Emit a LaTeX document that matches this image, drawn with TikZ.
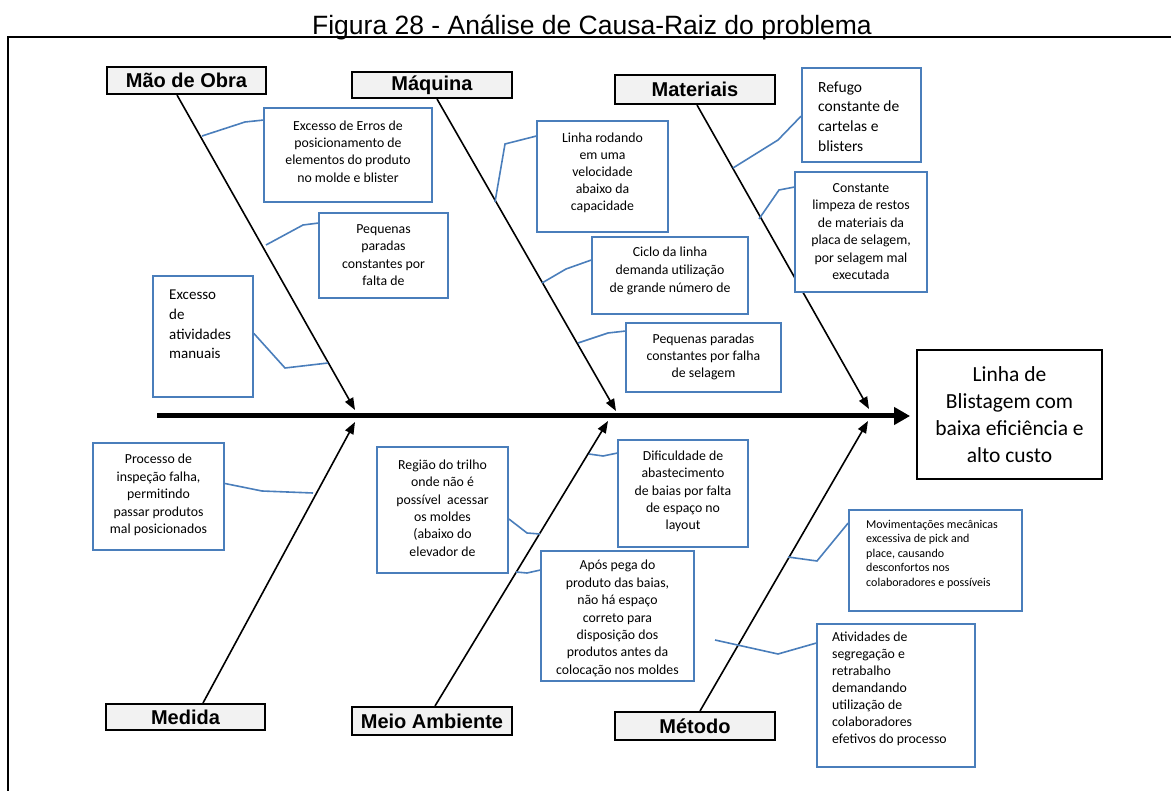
\documentclass[tikz,border=0pt]{standalone}
\usepackage{fontspec}
\setmainfont{Carlito}
\newfontfamily\arialfont{Liberation Sans}
\usetikzlibrary{arrows.meta}
\definecolor{causeblue}{HTML}{4A7EBB}
\definecolor{headgray}{HTML}{F2F2F2}
\newcommand\fsz[2]{\fontsize{#1}{#2}\selectfont}

\begin{document}
\begin{tikzpicture}[x=1pt,y=-1pt,
  catbox/.style={draw=black, line width=2pt, fill=headgray, inner sep=0pt,
    font=\arialfont\bfseries\fsz{20}{24}},
  causebox/.style={draw=causeblue, line width=1.8pt, fill=white, inner sep=0pt},
  causetext/.style={inner sep=0pt, align=center, font=\fsz{13.8}{17.4}},
  lefttext/.style={inner sep=0pt, align=left, anchor=west},
  link/.style={draw=causeblue, line width=1.6pt},
  bone/.style={draw=black, line width=1.6pt, -{Triangle[length=12pt,width=9pt]}},
  spine/.style={draw=black, line width=5pt, -{Triangle[length=16pt,width=17pt]}},
  ]
\useasboundingbox (0,0) rectangle (1171,791);

% title and frame
\node[font=\arialfont\fsz{26.5}{30}, anchor=base, inner sep=0pt] (title) at (592,34.5)
  {Figura 28 - Análise de Causa-Raiz do problema};
\coordinate (fbl) at (8,792);
\coordinate (ftl) at (8,37);
\coordinate (ftr) at (1172,37);
\draw[line width=2pt] (fbl) -- (ftl) -- (ftr);

% effect
\node[draw=black, line width=1.8pt, minimum width=185pt, minimum height=129pt,
  inner sep=0pt, align=center, font=\fsz{21.5}{27}] (eff) at (1009.5,414.5)
  {Linha de\\Blistagem com\\baixa eficiência e\\alto custo};

% spine
\coordinate (spineStart) at (157,416);
\draw[spine, shorten >=6pt] (spineStart) -- (spineStart -| eff.west);

% categories
\node[catbox, minimum width=159pt, minimum height=27pt] (mo)   at (186.5,80.5) {Mão de Obra};
\node[catbox, minimum width=160pt, minimum height=26pt] (maq)  at (432,85)     {Máquina};
\node[catbox, minimum width=160pt, minimum height=29pt] (mat)  at (695,89.5)   {Materiais};
\node[catbox, minimum width=159pt, minimum height=26pt] (med)  at (185.5,717)  {Medida};
\node[catbox, minimum width=160pt, minimum height=28pt] (meio) at (432,721)    {Meio Ambiente};
\node[catbox, minimum width=160pt, minimum height=28pt] (met)  at (695,726)    {Método};

% bones
\coordinate (moTip)   at (355,410);
\coordinate (maqTip)  at (616,411);
\coordinate (matTip)  at (869,409);
\coordinate (medTip)  at (355,422);
\coordinate (meioTip) at (608,421);
\coordinate (metTip)  at (868,421);
\draw[bone] ([xshift=-9.5pt]mo.south) -- (moTip);
\draw[bone] ([xshift=5pt]maq.south) -- (maqTip);
\draw[bone] ([xshift=2pt]mat.south) -- (matTip);
\draw[bone] ([xshift=17.5pt]med.north) -- (medTip);
\draw[bone] ([xshift=3pt]meio.north) -- (meioTip);
\draw[bone] ([xshift=5pt]met.north) -- (metTip);

% cause boxes
\node[causebox, minimum width=168pt, minimum height=94pt]  (b1)  at (348,155) {};
\node[causebox, minimum width=129pt, minimum height=85pt]  (b2)  at (383.5,255.5) {};
\node[causebox, minimum width=100pt, minimum height=121pt] (b3)  at (203,336.5) {};
\node[causebox, minimum width=131pt, minimum height=111pt] (b4)  at (602.5,176.5) {};
\node[causebox, minimum width=156pt, minimum height=77pt]  (b5)  at (670,275.5) {};
\node[causebox, minimum width=155pt, minimum height=69pt]  (b6)  at (703.5,357.5) {};
\node[causebox, minimum width=119pt, minimum height=94pt]  (b7)  at (861.5,115) {};
\node[causebox, minimum width=132pt, minimum height=120pt] (b8)  at (861,232) {};
\node[causebox, minimum width=131pt, minimum height=107pt] (b9)  at (158.5,496.5) {};
\node[causebox, minimum width=131pt, minimum height=126pt] (b10) at (442.5,510) {};
\node[causebox, minimum width=130pt, minimum height=107pt] (b11) at (683,493.5) {};
\node[causebox, minimum width=153pt, minimum height=130pt] (b12) at (617.5,616) {};
\node[causebox, minimum width=173pt, minimum height=101pt] (b13) at (935.5,560.5) {};
\node[causebox, minimum width=158pt, minimum height=143pt] (b14) at (896,695.5) {};

% cause texts
\node[causetext] (t1) at (348,151.5)
  {Excesso de Erros de\\posicionamento de\\elementos do produto\\no molde e blister};
\node[causetext] (t2) at (383.5,255)
  {Pequenas\\paradas\\constantes por\\falta de};
\node[lefttext, font=\fsz{15}{19.7}] (t3) at (169,324.5)
  {Excesso\\de\\atividades\\manuais};
\node[causetext, font=\fsz{13.8}{17}] (t4) at (602.5,173)
  {Linha rodando\\em uma\\velocidade\\abaixo da\\capacidade};
\node[causetext, font=\fsz{13.8}{18}] (t5) at (670,271)
  {Ciclo da linha\\demanda utilização\\de grande número de};
\node[causetext, font=\fsz{13.8}{17}] (t6) at (703.5,357)
  {Pequenas paradas\\constantes por falha\\de selagem};
\node[lefttext, font=\fsz{15.5}{19.7}] (t7) at (818,116.5)
  {Refugo\\constante de\\cartelas e\\blisters};
\node[causetext] (t8) at (861,231.5)
  {Constante\\limpeza de restos\\de materiais da\\placa de selagem,\\por selagem mal\\executada};
\node[causetext] (t9) at (158.5,495)
  {Processo de\\inspeção falha,\\permitindo\\passar produtos\\mal posicionados};
\node[causetext] (t10) at (442.5,508)
  {Região do trilho\\onde não é\\possível\ \ acessar\\os moldes\\(abaixo do\\elevador de};
\node[causetext] (t11) at (683,491.5)
  {Dificuldade de\\abastecimento\\de baias por falta\\de espaço no\\layout};
\node[causetext] (t12) at (617.5,618.5)
  {Após pega do\\produto das baias,\\não há espaço\\correto para\\disposição dos\\produtos antes da\\colocação nos moldes};
\node[lefttext, font=\fsz{12}{14.5}] (t13) at (866,554)
  {Movimentações mecânicas\\excessiva de pick and\\place, causando\\desconfortos nos\\colaboradores e possíveis};
\node[lefttext, font=\fsz{13.8}{17}] (t14) at (832,689)
  {Atividades de\\segregação e\\retrabalho\\demandando\\utilização de\\colaboradores\\efetivos do processo};

% junctions on the bones
\coordinate (j1)  at (202,136);
\coordinate (j2)  at (266,245);
\coordinate (j3)  at (328,363);
\coordinate (j4)  at (495,202);
\coordinate (j5)  at (542,283);
\coordinate (j6)  at (578,343);
\coordinate (j7)  at (733,168);
\coordinate (j8)  at (759,219);
\coordinate (j9)  at (313,493);
\coordinate (j10) at (540,534);
\coordinate (j11) at (589,454);
\coordinate (j12) at (516,572);
\coordinate (j13) at (788,557);
\coordinate (j14) at (715,640);

% connectors from the boxes to the bones
\draw[link] ([yshift=-13pt]b1.north west) -- (245,122) -- (j1);
\draw[link] ([yshift=-11pt]b2.north west) -- (303,225) -- (j2);
\draw[link] ([yshift=3pt]b3.east) -- (285,368) -- (j3);
\draw[link] ([yshift=-16pt]b4.north west) -- (505,144) -- (j4);
\draw[link] ([yshift=-24pt]b5.north west) -- (566,269) -- (j5);
\draw[link] ([yshift=-9pt]b6.north west) -- (608,333) -- (j6);
\draw[link] ([yshift=-49pt]b7.north west) -- (778,140) -- (j7);
\draw[link] ([yshift=-16pt]b8.north west) -- (779,190) -- (j8);
\draw[link] ([yshift=13pt]b9.east) -- (262,491) -- (j9);
\draw[link] ([yshift=-9pt]b10.east) -- (527,533) -- (j10);
\draw[link] ([yshift=-14pt]b11.north west) -- (603,456) -- (j11);
\draw[link] ([yshift=-20pt]b12.north west) -- (527,573) -- (j12);
\draw[link] ([yshift=-14pt]b13.north west) -- (817,561) -- (j13);
\draw[link] ([yshift=-20pt]b14.north west) -- (778,654) -- (j14);
\end{tikzpicture}
\end{document}
